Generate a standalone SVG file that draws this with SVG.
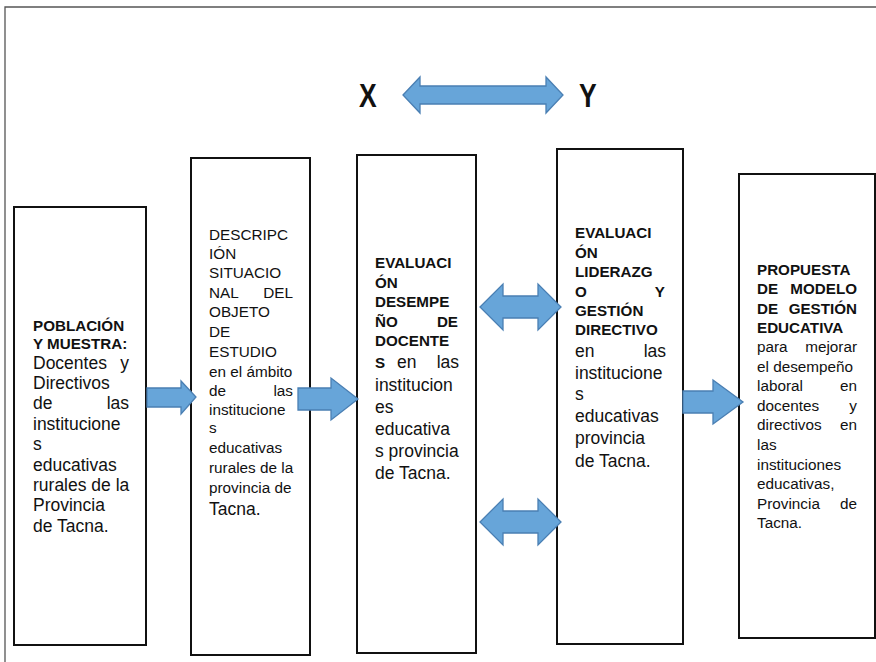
<svg xmlns="http://www.w3.org/2000/svg" width="876" height="662" viewBox="0 0 876 662">
<style>
.box{fill:#fff;stroke:#111;stroke-width:2}
.arr{fill:#67a5d9;stroke:#4a7fb3;stroke-width:1.3;stroke-linejoin:miter}
text{font-family:"Liberation Sans",Arial,Helvetica,sans-serif;fill:#111}
.b{font-weight:bold;font-size:15.2px}
.r{font-size:17.5px}
.s{font-size:15.3px}
.e{text-anchor:end}
.xy{font-weight:bold;font-size:34px}
</style>
<rect x="0" y="0" width="876" height="662" fill="#fff"/>
<path d="M5,662 L5,7 L876,7" fill="none" stroke="#555" stroke-width="1.3"/>

<g id="labelX"><text class="xy" transform="translate(359,107) scale(0.78,1)">X</text></g>
<g id="labelY"><text class="xy" transform="translate(579,107) scale(0.78,1)">Y</text></g>

<g id="box1">
<rect class="box" x="14" y="207" width="132" height="438"/>
<text class="b" x="33" y="331">POBLACIÓN</text>
<text class="b" x="33" y="349">Y MUESTRA:</text>
<text class="r" x="33" y="369">Docentes</text><text class="r e" x="129" y="369">y</text>
<text class="r" x="33" y="389">Directivos</text>
<text class="r" x="33" y="409">de</text><text class="r e" x="129" y="409">las</text>
<text class="r" x="33" y="430">institucione</text>
<text class="r" x="33" y="450">s</text>
<text class="r" x="33" y="471">educativas</text>
<text class="r" x="33" y="491">rurales de la</text>
<text class="r" x="33" y="511">Provincia</text>
<text class="r" x="33" y="532">de Tacna.</text>
</g>

<g id="box2">
<rect class="box" x="191" y="158" width="119" height="497"/>
<text class="s" x="209" y="240">DESCRIPC</text>
<text class="s" x="209" y="259">IÓN</text>
<text class="s" x="209" y="278">SITUACIO</text>
<text class="s" x="209" y="298">NAL</text><text class="s e" x="293" y="298">DEL</text>
<text class="s" x="209" y="317">OBJETO</text>
<text class="s" x="209" y="337">DE</text>
<text class="s" x="209" y="357">ESTUDIO</text>
<text class="s" x="209" y="377">en el ámbito</text>
<text class="s" x="209" y="396">de</text><text class="s e" x="293" y="396">las</text>
<text class="s" x="209" y="415">institucione</text>
<text class="s" x="209" y="433">s</text>
<text class="s" x="209" y="453">educativas</text>
<text class="s" x="209" y="473">rurales de la</text>
<text class="s" x="209" y="493">provincia de</text>
<text class="r" x="209" y="515">Tacna.</text>
</g>

<g id="box3">
<rect class="box" x="357" y="155" width="119" height="498"/>
<text class="b" x="375" y="268">EVALUACI</text>
<text class="b" x="375" y="288">ÓN</text>
<text class="b" x="375" y="307">DESEMPE</text>
<text class="b" x="375" y="327">ÑO</text><text class="b e" x="458" y="327">DE</text>
<text class="b" x="375" y="346">DOCENTE</text>
<text class="b" x="375" y="368">S</text><text class="r" x="397" y="368">en</text><text class="r e" x="459" y="368">las</text>
<text class="r" x="375" y="391">institucion</text>
<text class="r" x="375" y="413">es</text>
<text class="r" x="375" y="435">educativa</text>
<text class="r" x="375" y="457">s provincia</text>
<text class="r" x="375" y="479">de Tacna.</text>
</g>

<g id="box4">
<rect class="box" x="557" y="149" width="126" height="495"/>
<text class="b" x="575" y="238">EVALUACI</text>
<text class="b" x="575" y="258">ÓN</text>
<text class="b" x="575" y="277">LIDERAZG</text>
<text class="b" x="575" y="297">O</text><text class="b e" x="665" y="297">Y</text>
<text class="b" x="575" y="316">GESTIÓN</text>
<text class="b" x="575" y="335">DIRECTIVO</text>
<text class="r" x="575" y="357">en</text><text class="r e" x="666" y="357">las</text>
<text class="r" x="575" y="379">institucione</text>
<text class="r" x="575" y="400">s</text>
<text class="r" x="575" y="422">educativas</text>
<text class="r" x="575" y="444">provincia</text>
<text class="r" x="575" y="467">de Tacna.</text>
</g>

<g id="box5">
<rect class="box" x="739" y="174" width="136" height="464"/>
<text class="b" x="757" y="275">PROPUESTA</text>
<text class="b" x="757" y="294">DE</text><text class="b e" x="857" y="294">MODELO</text>
<text class="b" x="757" y="314">DE</text><text class="b e" x="857" y="314">GESTIÓN</text>
<text class="b" x="757" y="333">EDUCATIVA</text>
<text class="s" x="757" y="352">para</text><text class="s e" x="857" y="352">mejorar</text>
<text class="s" x="757" y="372">el desempeño</text>
<text class="s" x="757" y="391">laboral</text><text class="s e" x="857" y="391">en</text>
<text class="s" x="757" y="411">docentes</text><text class="s e" x="857" y="411">y</text>
<text class="s" x="757" y="430">directivos</text><text class="s e" x="857" y="430">en</text>
<text class="s" x="757" y="450">las</text>
<text class="s" x="757" y="470">instituciones</text>
<text class="s" x="757" y="489">educativas,</text>
<text class="s" x="757" y="509">Provincia</text><text class="s e" x="857" y="509">de</text>
<text class="s" x="757" y="528">Tacna.</text>
</g>

<g id="connectors">
<path class="arr" d="M403,95 L420,77 L420,86 L546,86 L546,77 L563,95 L546,113 L546,104 L420,104 L420,113 Z"/>
<path class="arr" d="M147,388 L181,388 L181,381 L196,397 L181,414 L181,407 L147,407 Z"/>
<path class="arr" d="M298,388 L331,388 L331,378 L358,399 L331,420 L331,410 L298,410 Z"/>
<path class="arr" d="M683,391 L713,391 L713,380 L743,402 L713,424 L713,413 L683,413 Z"/>
<path class="arr" d="M480,307 L503,284 L503,296 L538,296 L538,284 L561,307 L538,330 L538,318 L503,318 L503,330 Z"/>
<path class="arr" d="M480,522 L503,499 L503,511 L538,511 L538,499 L561,522 L538,545 L538,533 L503,533 L503,545 Z"/>
</g>
</svg>
